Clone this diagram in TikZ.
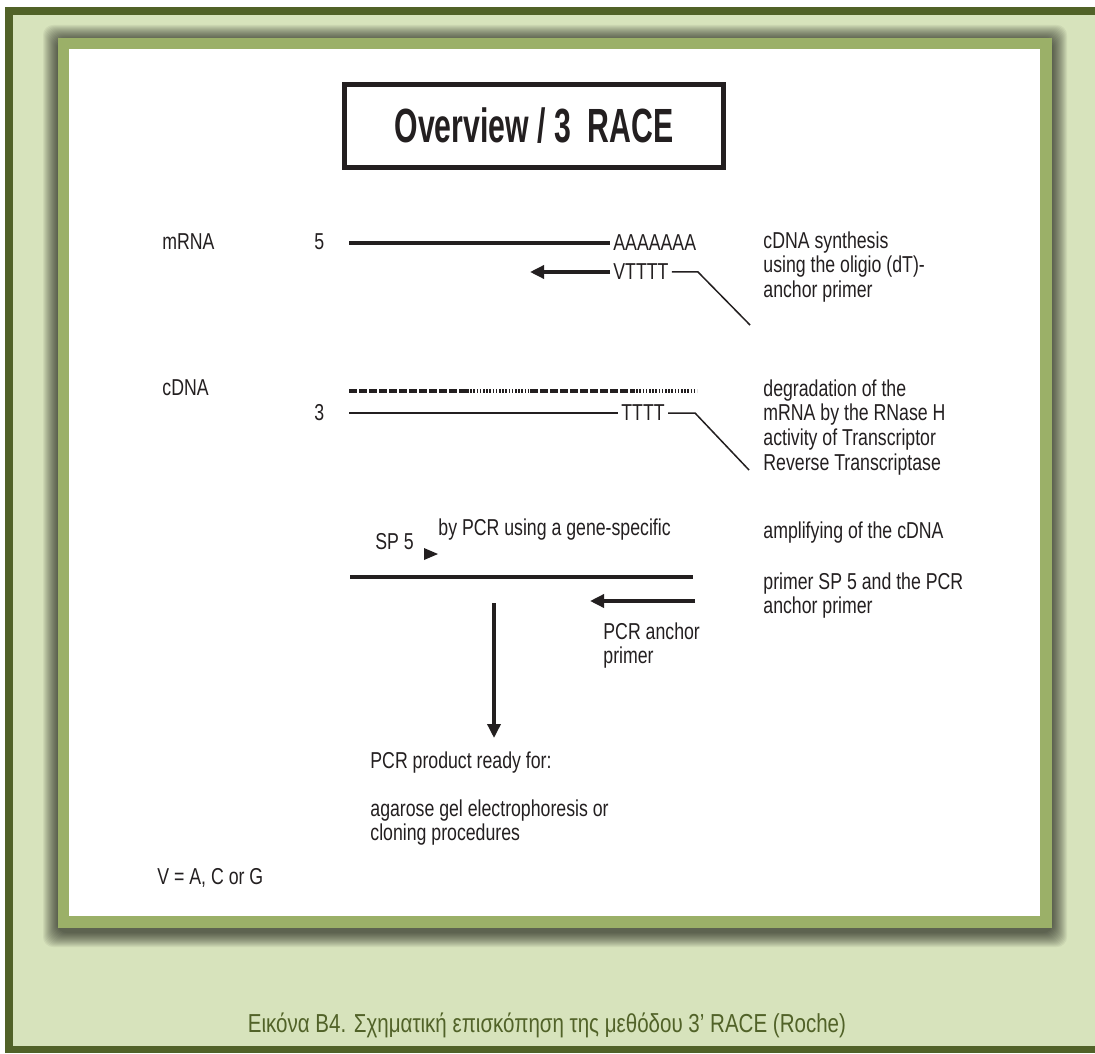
\documentclass[tikz,border=0pt]{standalone}
\usepackage{fontspec}
\setmainfont{Liberation Sans}
\newfontfamily\narrowsans[FakeStretch=0.77]{Liberation Sans}
\newfontfamily\titlesans[FakeStretch=0.63]{Liberation Sans}
\newfontfamily\capsans[FakeStretch=0.79]{Liberation Sans}
\usepackage{tikz}
\usetikzlibrary{arrows.meta}
\definecolor{olivedark}{RGB}{81,98,40}
\definecolor{sage}{RGB}{215,227,188}
\definecolor{framegreen}{RGB}{155,176,104}
\definecolor{ink}{RGB}{35,31,32}
\tikzset{
  lbl/.style={font=\narrowsans\fontsize{11.5}{12.4}\selectfont, inner sep=0pt, align=left, text=ink},
  seq/.style={lbl, inner xsep=1.5pt},
  strand/.style={line width=1.7pt,draw=ink},
  strandthin/.style={line width=1pt,draw=ink},
  leader/.style={line width=0.75pt,draw=ink},
  tip/.style={-{Triangle[length=7pt,width=6.5pt]}},
  dashseg/.style={line width=1.6pt,draw=ink,dash pattern=on 4pt off 1pt},
  dotseg/.style={line width=1.6pt,draw=ink,dash pattern=on 0.8pt off 0.8pt},
}
\begin{document}
\begin{tikzpicture}[x=0.5pt,y=-0.5pt,line join=miter]
\useasboundingbox (0,0) rectangle (1095,1053);
% page frame
\fill[olivedark] (5,7) rectangle (1095,1053);
\fill[sage] (13,15) rectangle (1095,1046);
\foreach \i in {1,...,15} { % soft shadow round the panel
	\fill[black,opacity=0.05,rounded corners=5pt] (58-\i,40-\i) rectangle (1052+\i,932+\i);
}
\fill[framegreen] (58,38) rectangle (1052,928);
\fill[white] (69,49) rectangle (1040,916);
% title
\node[draw=ink,line width=2.5pt,minimum width=189.75pt,minimum height=41.75pt,inner sep=0pt,text=ink,
  font=\titlesans\bfseries\fontsize{24}{26}\selectfont] (title) at (534,126) {Overview / 3~~RACE};
% mRNA
\node[lbl,anchor=west] (mrna) at (162,242) {mRNA};
\node[lbl,anchor=west] (five) at (314,242) {5};
\coordinate (mstart) at (349,243);
\node[seq,anchor=west] (polyA) at (610,243) {AAAAAAA};
\draw[strand] (mstart) -- (polyA.west);
\node[seq,anchor=west] (vt) at (610,272) {VTTTT};
\coordinate (vtip) at (530,272);
\coordinate (vbend) at (698,272);
\coordinate (vend) at (750,325);
\draw[strand,tip] (vt.west) -- (vtip);
\draw[leader] (vt.east) -- (vbend) -- (vend);
% cDNA
\node[lbl,anchor=west] (cdna) at (162,388) {cDNA};
\node[lbl,anchor=west] (three) at (314,413) {3};
\coordinate (d0) at (349,391);
\coordinate (d1) at (467,391);
\coordinate (d2) at (530,391);
\coordinate (d3) at (633,391);
\coordinate (d4) at (697,391);
\draw[dashseg] (d0) -- (d1);
\draw[dotseg] (d1) -- (d2);
\draw[dashseg] (d2) -- (d3);
\draw[dotseg] (d3) -- (d4);
\coordinate (cstart) at (349,413);
\node[seq,anchor=west] (tttt) at (618,413) {TTTT};
\coordinate (tbend) at (695,413);
\coordinate (tend) at (749,470);
\draw[strandthin] (cstart) -- (tttt.west);
\draw[leader] (tttt.east) -- (tbend) -- (tend);
% notes on the right
\node[lbl,anchor=north west] (synth) at (763,231) {cDNA synthesis\\using the oligio (dT)-\\anchor primer};
\node[lbl,anchor=north west] (degr) at (763,379) {degradation of the\\mRNA by the RNase H\\activity of Transcriptor\\Reverse Transcriptase};
\node[lbl,anchor=west] (ampl) at (763,533) {amplifying of the cDNA};
\node[lbl,anchor=north west] (prim) at (763,572) {primer SP 5 and the PCR\\anchor primer};
% PCR
\node[lbl,anchor=west] (sp) at (375,542) {SP 5};
\node[lbl,anchor=west] (bypcr) at (438,530) {by PCR using a gene-specific};
\fill[ink] (424,548) -- (438,554) -- (424,560) -- cycle;
\coordinate (pa) at (350,577);
\coordinate (pb) at (693,577);
\draw[strand] (pa) -- (pb);
\coordinate (aa) at (695,601);
\coordinate (ab) at (590,601);
\draw[strand,tip] (aa) -- (ab);
\node[lbl,anchor=north west] (anch) at (603,622) {PCR anchor\\primer};
\coordinate (dtop) at (494,603);
\coordinate (dend) at (494,738);
\draw[strand,tip] (dtop) -- (dend);
\node[lbl,anchor=west] (prod) at (370,763) {PCR product ready for:};
\node[lbl,anchor=north west] (uses) at (370,799) {agarose gel electrophoresis or\\cloning procedures};
\node[lbl,anchor=west] (vkey) at (157,878) {V = A, C or G};
% caption
\node[font=\capsans\fontsize{13}{15}\selectfont,text=olivedark,inner sep=0pt] (caption) at (547,1025)
  {Εικόνα Β4. Σχηματική επισκόπηση της μεθόδου 3’ RACE (Roche)};
\end{tikzpicture}
\end{document}
